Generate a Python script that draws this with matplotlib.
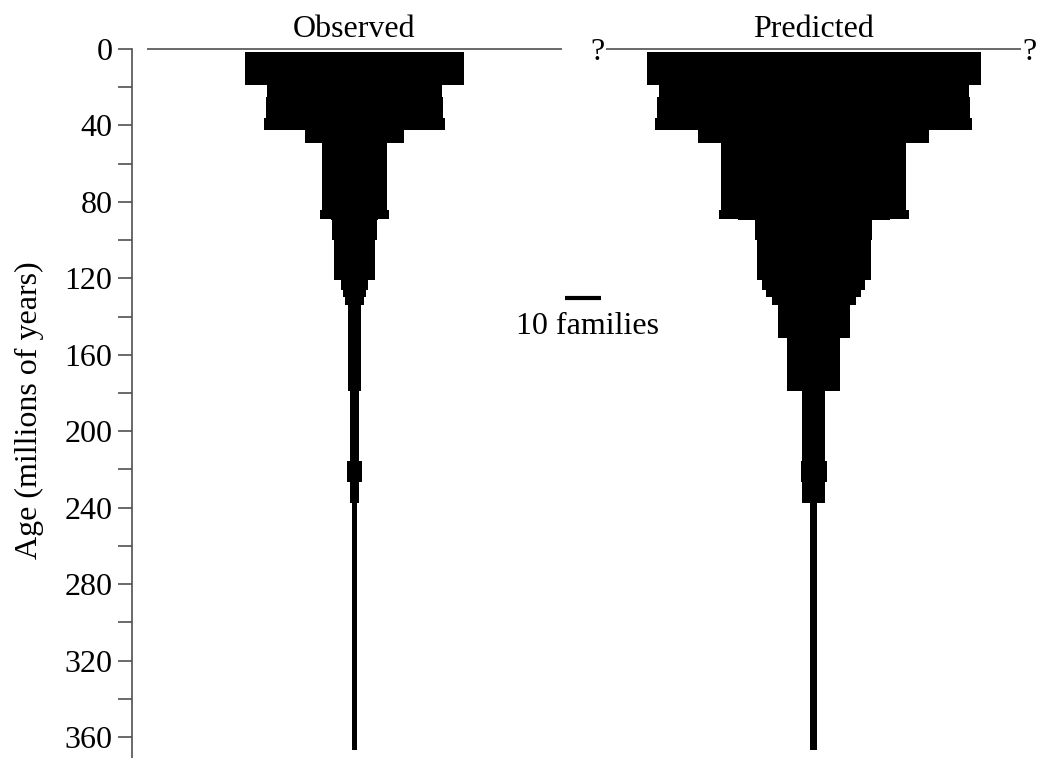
import matplotlib
matplotlib.use("Agg")
import matplotlib.pyplot as plt
import numpy as np

plt.rcParams["font.family"] = ["Liberation Serif", "DejaVu Serif"]

# age bin boundaries (millions of years) shared by both spindles
edges = [1.4, 18.8, 25.0, 36.3, 42.4, 49.3, 84.3, 88.8, 89.5, 100.2, 121.1,
         125.9, 129.8, 134.2, 151.1, 179.2, 215.4, 226.6, 237.7, 366.8]

# number of families in each bin
observed = [61.0, 48.6, 49.4, 50.5, 27.5, 17.8, 18.9, 13.3, 12.5, 11.6,
            7.5, 6.5, 5.3, 3.4, 3.4, 2.4, 4.4, 2.4, 1.2]
predicted = [92.6, 86.2, 86.9, 88.1, 64.1, 51.4, 52.6, 42.1, 32.5, 31.5,
             28.6, 26.4, 23.3, 20.0, 14.7, 6.4, 7.4, 6.4, 1.9]

panels = ["Observed", "Predicted"]
scale_families = 10

fig = plt.figure(figsize=(10.37, 7.58), dpi=100)
ax = fig.add_axes([132 / 1037, 0, 905 / 1037, 709 / 758])

tops = np.array(edges[:-1])
dur = np.diff(edges)
centers = [61.8, 189.4]
half_line = 57.6
grey = "#505050"
fs = 23

for name, vals, c in zip(panels, [observed, predicted], centers):
    w = np.array(vals)
    ax.barh(tops, w, height=dur, left=c - w / 2, align="edge",
            color="black", linewidth=0)
    ax.plot([c - half_line, c + half_line], [0, 0], color=grey, lw=1.2,
            clip_on=False, solid_capstyle="butt")
    ax.text(c, -6.3, name, ha="center", va="baseline", fontsize=fs)

# question marks at the ends of the predicted line
for dx in (-60.2, 60.0):
    ax.text(centers[1] + dx, 5.8, "?", ha="center", va="baseline",
            fontsize=fs)

# scale bar
ax.plot([120.3, 120.3 + scale_families], [130.3, 130.3], color="black",
        lw=3, solid_capstyle="butt")
ax.text(126.4, 149.1, f"{scale_families} families", ha="center",
        va="baseline", fontsize=fs)

ax.set_xlim(0, 905 / 3.6)
ax.set_ylim(371, 0)
ax.set_yticks(np.arange(0, 361, 40))
ax.set_yticks(np.arange(20, 361, 40), minor=True)
ax.tick_params(axis="y", which="both", length=10, width=1.2, color=grey,
               labelsize=fs, pad=4)
ax.set_xticks([])
for s in ["top", "right", "bottom"]:
    ax.spines[s].set_visible(False)
ax.spines["left"].set_color(grey)
ax.spines["left"].set_linewidth(1.2)
ax.set_ylabel("Age (millions of years)", fontsize=fs)
ax.yaxis.set_label_coords(-0.097, 0.49)

fig.savefig("out.png", dpi=100)
